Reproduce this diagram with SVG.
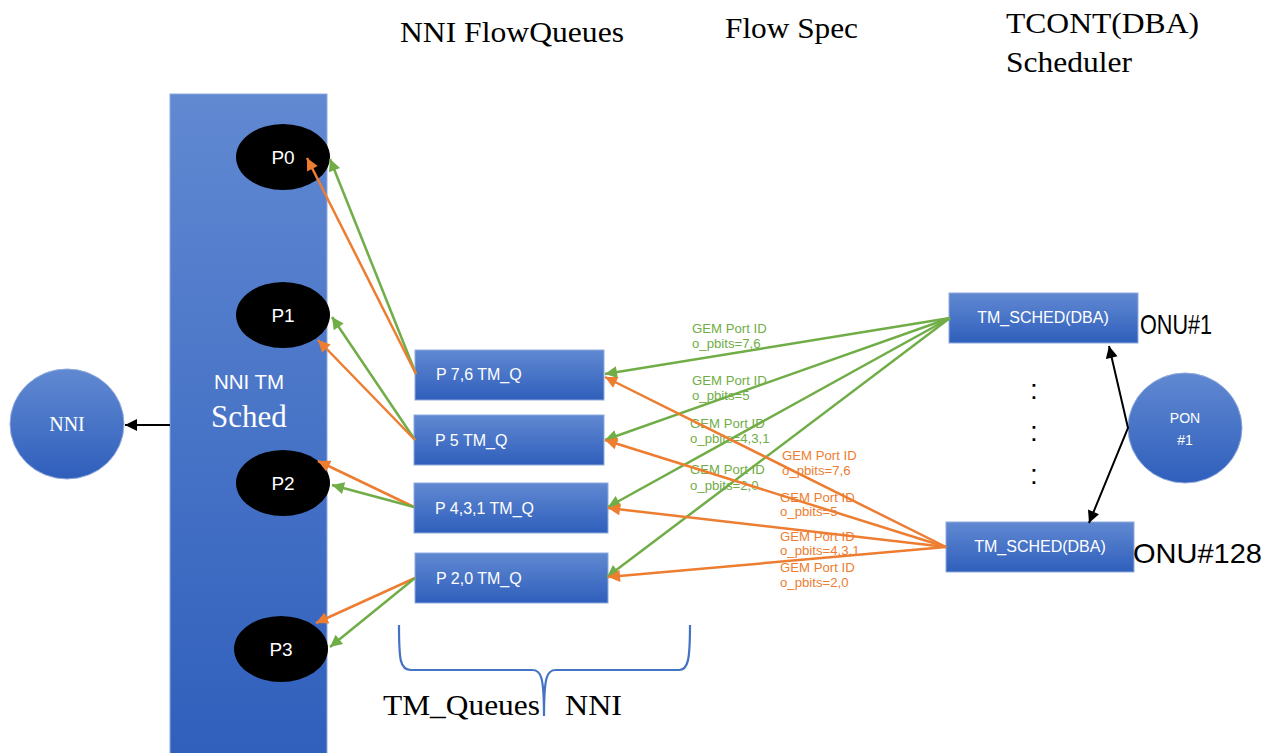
<svg xmlns="http://www.w3.org/2000/svg" width="1273" height="753" viewBox="0 0 1273 753">
  <defs>
    <linearGradient id="blueFill" x1="0" y1="0" x2="0" y2="1">
      <stop offset="0" stop-color="#6189d2"/>
      <stop offset="1" stop-color="#2f5fbc"/>
    </linearGradient>
    <marker id="arrowGreen" viewBox="0 0 10 10" refX="10" refY="5" markerWidth="14" markerHeight="12" markerUnits="userSpaceOnUse" orient="auto">
      <path d="M0,0 L10,5 L0,10 z" fill="#70ad47"/>
    </marker>
    <marker id="arrowOrange" viewBox="0 0 10 10" refX="10" refY="5" markerWidth="14" markerHeight="12" markerUnits="userSpaceOnUse" orient="auto">
      <path d="M0,0 L10,5 L0,10 z" fill="#ed7d31"/>
    </marker>
    <marker id="arrowBlack" viewBox="0 0 10 10" refX="10" refY="5" markerWidth="13" markerHeight="12" markerUnits="userSpaceOnUse" orient="auto-start-reverse">
      <path d="M0,0 L10,5 L0,10 z" fill="#000"/>
    </marker>
  </defs>
  <style>
    .box { fill: url(#blueFill); stroke: #8faadc; stroke-width: 1; }
    .port { fill: #000; }
    .title { font-family: "Liberation Serif", "Times New Roman", serif; font-size: 30px; fill: #000; }
    .boxlabel { font-family: "Liberation Sans", Arial, sans-serif; font-size: 16px; fill: #fff; }
    .portlabel { font-family: "Liberation Sans", Arial, sans-serif; font-size: 19px; fill: #fff; text-anchor: middle; }
    .onu { font-family: "Liberation Sans", Arial, sans-serif; font-size: 28.5px; fill: #000; }
    .gem { font-family: "Liberation Sans", Arial, sans-serif; font-size: 13.2px; }
    .gem-g { fill: #70ad47; }
    .gem-o { fill: #ed7d31; }
    .g { stroke: #70ad47; stroke-width: 2.5; fill: none; marker-end: url(#arrowGreen); }
    .o { stroke: #ed7d31; stroke-width: 2.5; fill: none; marker-end: url(#arrowOrange); }
    .k { stroke: #000; stroke-width: 2; fill: none; }
  </style>

  <!-- column headings -->
  <g id="headings">
    <text class="title" x="400" y="42" textLength="224" lengthAdjust="spacingAndGlyphs">NNI FlowQueues</text>
    <text class="title" x="725" y="38" textLength="133" lengthAdjust="spacingAndGlyphs">Flow Spec</text>
    <text class="title" x="1006" y="33" textLength="193" lengthAdjust="spacingAndGlyphs">TCONT(DBA)</text>
    <text class="title" x="1006" y="72" textLength="126" lengthAdjust="spacingAndGlyphs">Scheduler</text>
  </g>

  <!-- NNI TM scheduler column -->
  <g id="nni-tm-sched">
    <rect class="box" x="170" y="94" width="157" height="670" stroke="none"/>
    <text x="249" y="389" text-anchor="middle" font-family="Liberation Sans, Arial, sans-serif" font-size="20.5" fill="#fff">NNI TM</text>
    <text x="249" y="427" text-anchor="middle" font-family="Liberation Serif, Times New Roman, serif" font-size="31" fill="#fff">Sched</text>
  </g>

  <!-- NNI port -->
  <g id="nni">
    <ellipse class="box" cx="67" cy="424" rx="57" ry="55" stroke="none"/>
    <text x="67" y="431" text-anchor="middle" font-family="Liberation Serif, Times New Roman, serif" font-size="20" fill="#fff">NNI</text>
  </g>

  <!-- priority queues inside the scheduler -->
  <g id="p0">
    <ellipse class="port" cx="283" cy="157" rx="47" ry="33"/>
    <text class="portlabel" x="283" y="164">P0</text>
  </g>
  <g id="p1">
    <ellipse class="port" cx="283" cy="315" rx="47" ry="33"/>
    <text class="portlabel" x="283" y="322">P1</text>
  </g>
  <g id="p2">
    <ellipse class="port" cx="283" cy="483" rx="47" ry="33"/>
    <text class="portlabel" x="283" y="490">P2</text>
  </g>
  <g id="p3">
    <ellipse class="port" cx="281" cy="649" rx="47" ry="33"/>
    <text class="portlabel" x="281" y="656">P3</text>
  </g>

  <!-- NNI flow queues -->
  <g id="q76">
    <rect class="box" x="415" y="350" width="189" height="50"/>
    <text class="boxlabel" x="436" y="380">P 7,6 TM_Q</text>
  </g>
  <g id="q5">
    <rect class="box" x="414" y="415" width="190" height="50"/>
    <text class="boxlabel" x="435" y="446">P 5 TM_Q</text>
  </g>
  <g id="q431">
    <rect class="box" x="414" y="483" width="194" height="50"/>
    <text class="boxlabel" x="435" y="514">P 4,3,1 TM_Q</text>
  </g>
  <g id="q20">
    <rect class="box" x="415" y="553" width="193" height="50"/>
    <text class="boxlabel" x="436" y="584">P 2,0 TM_Q</text>
  </g>

  <!-- TCONT schedulers -->
  <g id="sched-onu1">
    <rect class="box" x="949" y="293" width="189" height="50"/>
    <text class="boxlabel" x="1043" y="323" text-anchor="middle">TM_SCHED(DBA)</text>
    <text class="onu" x="1140" y="334" textLength="72" lengthAdjust="spacingAndGlyphs">ONU#1</text>
  </g>
  <g id="sched-onu128">
    <rect class="box" x="946" y="522" width="188" height="50"/>
    <text class="boxlabel" x="1040" y="552" text-anchor="middle">TM_SCHED(DBA)</text>
    <text class="onu" x="1133" y="563" textLength="129" lengthAdjust="spacingAndGlyphs">ONU#128</text>
  </g>
  <g id="ellipsis">
    <text x="1034" y="399" text-anchor="middle" font-family="Liberation Sans, Arial, sans-serif" font-size="28">:</text>
    <text x="1034" y="441" text-anchor="middle" font-family="Liberation Sans, Arial, sans-serif" font-size="28">:</text>
    <text x="1034" y="484" text-anchor="middle" font-family="Liberation Sans, Arial, sans-serif" font-size="28">:</text>
  </g>

  <!-- PON port -->
  <g id="pon">
    <ellipse class="box" cx="1185" cy="428" rx="57" ry="55" stroke="none"/>
    <text x="1185" y="423" text-anchor="middle" font-family="Liberation Sans, Arial, sans-serif" font-size="14" fill="#fff">PON</text>
    <text x="1185" y="445" text-anchor="middle" font-family="Liberation Sans, Arial, sans-serif" font-size="14" fill="#fff">#1</text>
  </g>

  <!-- flow spec labels -->
  <g id="flow-spec-labels" class="gem">
    <text class="gem-g" x="692" y="333">GEM Port ID</text>
    <text class="gem-g" x="692" y="348">o_pbits=7,6</text>
    <text class="gem-g" x="692" y="385">GEM Port ID</text>
    <text class="gem-g" x="692" y="400">o_pbits=5</text>
    <text class="gem-g" x="690" y="428">GEM Port ID</text>
    <text class="gem-g" x="690" y="443">o_pbits=4,3,1</text>
    <text class="gem-g" x="690" y="474">GEM Port ID</text>
    <text class="gem-g" x="690" y="490">o_pbits=2,0</text>
    <text class="gem-o" x="782" y="460">GEM Port ID</text>
    <text class="gem-o" x="782" y="475">o_pbits=7,6</text>
    <text class="gem-o" x="780" y="502">GEM Port ID</text>
    <text class="gem-o" x="780" y="516">o_pbits=5</text>
    <text class="gem-o" x="780" y="541">GEM Port ID</text>
    <text class="gem-o" x="780" y="555">o_pbits=4,3,1</text>
    <text class="gem-o" x="780" y="572">GEM Port ID</text>
    <text class="gem-o" x="780" y="587">o_pbits=2,0</text>
  </g>

  <!-- brace under the flow queues -->
  <g id="queues-brace">
    <path d="M399,625 C399,660 400,670 411,670 L532,670 C541,670 544,676 544,716 C544,676 547,670 556,670 L679,670 C688,670 690,660 690,625" fill="none" stroke="#4472c4" stroke-width="2.2"/>
    <text class="title" x="383" y="715" textLength="157" lengthAdjust="spacingAndGlyphs">TM_Queues</text>
    <text class="title" x="565" y="715" textLength="57" lengthAdjust="spacingAndGlyphs">NNI</text>
  </g>

  <!-- connectors -->
  <g id="connectors">
    <!-- queues to scheduler priorities -->
    <line class="g" x1="416" y1="374" x2="330" y2="159"/>
    <line class="o" x1="416" y1="374" x2="307" y2="158"/>
    <line class="g" x1="415" y1="440" x2="332" y2="317"/>
    <line class="o" x1="415" y1="440" x2="318" y2="340"/>
    <line class="o" x1="414" y1="507" x2="318" y2="461"/>
    <line class="g" x1="414" y1="507" x2="332" y2="485"/>
    <line class="o" x1="415" y1="578" x2="316" y2="623"/>
    <line class="g" x1="415" y1="578" x2="330" y2="647"/>
    <!-- ONU#1 scheduler to queues -->
    <line class="g" x1="950" y1="318" x2="605" y2="374"/>
    <line class="g" x1="950" y1="318" x2="605" y2="440"/>
    <line class="g" x1="950" y1="318" x2="608" y2="507"/>
    <line class="g" x1="950" y1="318" x2="607" y2="577"/>
    <!-- ONU#128 scheduler to queues -->
    <line class="o" x1="946" y1="547" x2="605" y2="377"/>
    <line class="o" x1="946" y1="547" x2="605" y2="440"/>
    <line class="o" x1="946" y1="547" x2="608" y2="508"/>
    <line class="o" x1="946" y1="547" x2="608" y2="577"/>
    <!-- scheduler to NNI port -->
    <line class="k" x1="170" y1="425" x2="125" y2="425" marker-end="url(#arrowBlack)"/>
    <!-- PON to TCONT schedulers -->
    <polyline class="k" points="1109,346 1128,428 1089,523" marker-start="url(#arrowBlack)" marker-end="url(#arrowBlack)"/>
  </g>
</svg>
